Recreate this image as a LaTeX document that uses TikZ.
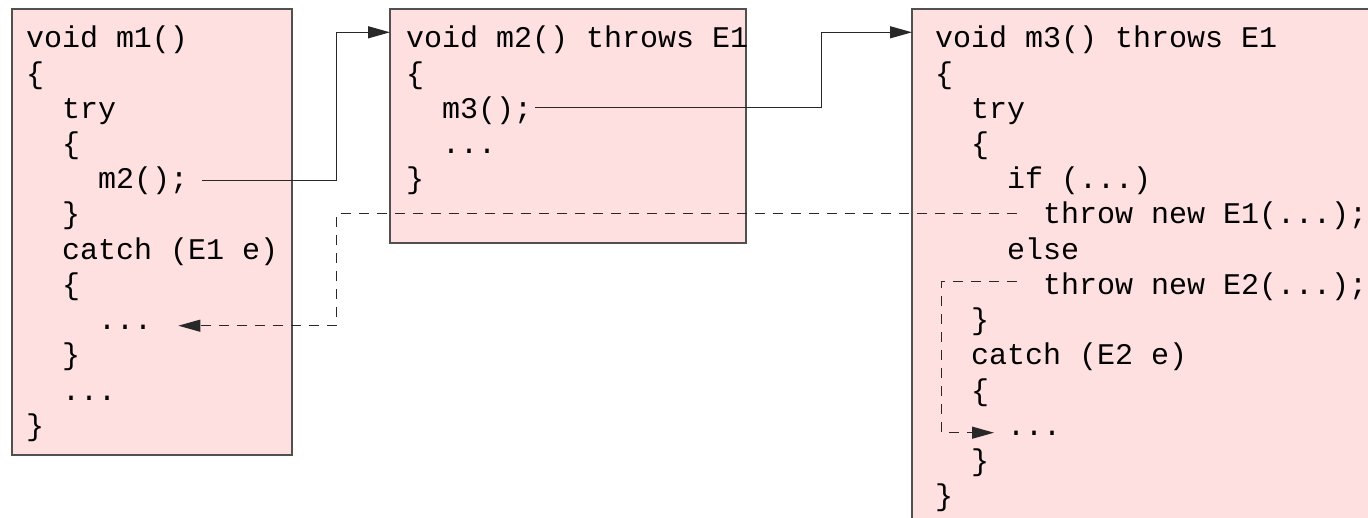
\documentclass[tikz,border=0pt]{standalone}
\usepackage{fontspec}
\setmonofont{Liberation Mono}
\usetikzlibrary{arrows.meta,calc}
\definecolor{boxfill}{RGB}{255,224,224}
\definecolor{edgegray}{RGB}{80,80,80}
\definecolor{conngray}{RGB}{40,40,40}
\begin{document}
\begin{tikzpicture}[x=1pt,y=-1pt,
  box/.style={draw=edgegray, line width=1.3pt, fill=boxfill, anchor=north west, inner sep=0pt, outer sep=0pt},
  code/.style={anchor=base west, inner sep=0pt, outer sep=0pt, font=\ttfamily\fontsize{30}{35}\selectfont},
  conn/.style={draw=conngray, line width=1.2pt},
  tip/.style={-{Triangle[length=22pt,width=12pt]}},
  flowdash/.style={dash pattern=on 10pt off 8pt}]
\useasboundingbox (0,0) rectangle (1368,518);
\clip (0,0) rectangle (1368,518);
% boxes
\node[box, minimum width=280pt, minimum height=446pt] (box1) at (12,9) {};
\node[box, minimum width=356pt, minimum height=234pt] (box2) at (390,9) {};
\node[box, minimum width=520pt, minimum height=560pt] (box3) at (912,9) {};
% box 1 code
\node[code] (a0) at (26,48) {void m1()};
\node[code] (a1) at (26,83.2) {\{};
\node[code] (a2) at (62,118.4) {try};
\node[code] (a3) at (62,153.6) {\{};
\node[code] (a4) at (98,188.8) {m2();};
\node[code] (a5) at (62,224) {\}};
\node[code] (a6) at (62,259.2) {catch (E1 e)};
\node[code] (a7) at (62,294.4) {\{};
\node[code] (a8) at (98,329.6) {...};
\node[code] (a9) at (62,364.8) {\}};
\node[code] (a10) at (62,400) {...};
\node[code] (a11) at (26,435.2) {\}};
% box 2 code
\node[code] (b0) at (406,48) {void m2() throws E1};
\node[code] (b1) at (406,83.2) {\{};
\node[code] (b2) at (442,118.4) {m3();};
\node[code] (b3) at (442,153.6) {...};
\node[code] (b4) at (406,188.8) {\}};
% box 3 code
\node[code] (c0) at (935,48) {void m3() throws E1};
\node[code] (c1) at (935,83.2) {\{};
\node[code] (c2) at (971,118.4) {try};
\node[code] (c3) at (971,153.6) {\{};
\node[code] (c4) at (1007,188.8) {if (...)};
\node[code] (c5) at (1043,224) {throw new E1(...);};
\node[code] (c6) at (1007,259.2) {else};
\node[code] (c7) at (1043,294.4) {throw new E2(...);};
\node[code] (c8) at (971,329.6) {\}};
\node[code] (c9) at (971,364.8) {catch (E2 e)};
\node[code] (c10) at (971,400) {\{};
\node[code] (c11) at (1007,435.2) {...};
\node[code] (c12) at (971,470.4) {\}};
\node[code] (c13) at (935,505.6) {\}};
% connector coordinates
\coordinate (s1) at ($(a4.base east)+(13.7,-8)$);
\coordinate (k1) at (336.7,32.3);
\coordinate (s2) at ($(b2.base east)+(3,-11.1)$);
\coordinate (k2) at (821.7,32.3);
\coordinate (e1) at ($(c5.base west)+(-26.3,-10.7)$);
\coordinate (t1) at ($(a8.base east)+(26.3,-3.9)$);
\coordinate (k3) at (336.7,0 |- t1);
\coordinate (e2) at ($(c7.base west)+(-26,-12.7)$);
\coordinate (t2) at ($(c11.base west)+(-13,-2.5)$);
\coordinate (k4) at (941.7,0 |- t2);
% calls
\draw[conn,tip] (s1) -| (k1) -- (k1 -| box2.west);
\draw[conn,tip] (s2) -| (k2) -- (k2 -| box3.west);
% exceptions
\draw[conn,flowdash,tip] (e1) -| (k3) -- (t1);
\draw[conn,flowdash,tip] (e2) -| (k4) -- (t2);
\end{tikzpicture}
\end{document}
